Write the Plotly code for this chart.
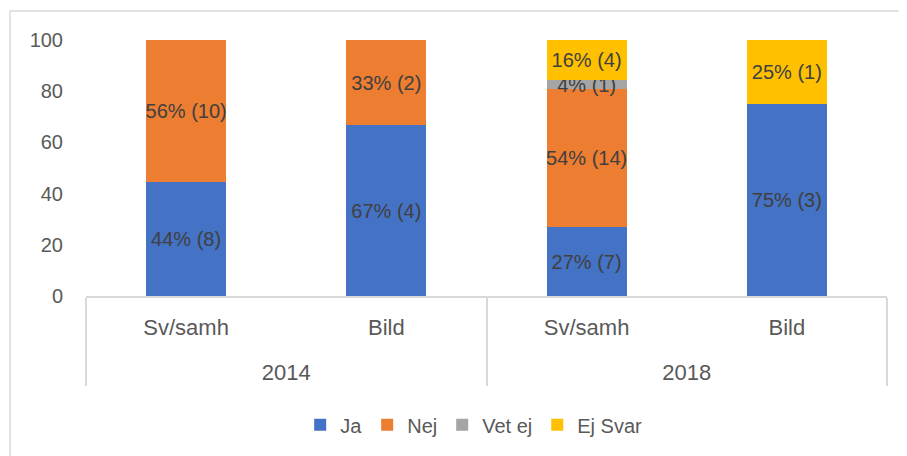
import plotly.graph_objects as go

years = ["2014", "2014", "2018", "2018"]
subjects = ["Sv/samh", "Bild", "Sv/samh", "Bild"]
series_names = ["Ja", "Nej", "Vet ej", "Ej Svar"]
colors = ["#4472C4", "#ED7D31", "#A5A5A5", "#FFC000"]
values = {
    "Ja": [44.4, 66.7, 26.9, 75.0],
    "Nej": [55.6, 33.3, 53.8, 0],
    "Vet ej": [0, 0, 3.8, 0],
    "Ej Svar": [0, 0, 15.4, 25.0],
}
labels = {
    "Ja": ["44% (8)", "67% (4)", "27% (7)", "75% (3)"],
    "Nej": ["56% (10)", "33% (2)", "54% (14)", ""],
    "Vet ej": ["", "", "4% (1)", ""],
    "Ej Svar": ["", "", "16% (4)", "25% (1)"],
}
y_ticks = [0, 20, 40, 60, 80, 100]

FONT = "Liberation Sans, Arial, sans-serif"
# page body has an 8px margin; positions below are in figure coordinates
OFF = 8
L, R_EDGE, TOP, BOT = 86 - OFF, 887 - OFF, 40 - OFF, 296 - OFF
W, H = 907, 456

year_labels = ["<br>" + y for y in years]

fig = go.Figure()
for name, col in zip(series_names, colors):
    fig.add_trace(go.Bar(
        name=name, x=[year_labels, subjects], y=values[name],
        marker=dict(color=col, line=dict(width=0)),
        text=labels[name], textposition="inside", insidetextanchor="middle",
        textangle=0, constraintext="none",
        textfont=dict(family=FONT, size=20, color="#404040"),
        hoverinfo="skip",
    ))

fig.update_layout(
    barmode="stack", bargap=0.6,
    width=W, height=H,
    margin=dict(l=L, r=W - R_EDGE, t=TOP, b=H - BOT, autoexpand=False),
    paper_bgcolor="white", plot_bgcolor="white",
    font=dict(family=FONT, size=20, color="#595959"),
    showlegend=True,
    legend=dict(orientation="h", x=0.484, xanchor="center", y=-0.427, yanchor="top",
                font=dict(family=FONT, size=20, color="#595959"),
                itemwidth=30, tracegroupgap=0, traceorder="normal"),
)
fig.update_xaxes(
    type="multicategory", showline=True, linecolor="#d9d9d9", linewidth=1.5,
    showdividers=True, dividercolor="#d9d9d9", dividerwidth=1.5,
    tickfont=dict(family=FONT, size=22, color="#595959"),
    showgrid=False, ticks="", automargin=False, ticklabelstandoff=11,
)
fig.update_yaxes(
    range=[0, 100], tickvals=y_ticks, showgrid=False, zeroline=False, showline=False,
    tickfont=dict(family=FONT, size=20, color="#595959"), ticks="", ticklabelstandoff=22,
    automargin=False,
)

# chart frame lines (left and top)
pw, ph = R_EDGE - L, BOT - TOP
px_x = lambda p: (p - OFF - L) / pw
px_y = lambda p: (BOT - (p - OFF)) / ph
fig.add_shape(type="line", xref="paper", yref="paper", x0=px_x(10), x1=px_x(10),
              y0=px_y(11), y1=px_y(470), line=dict(color="#d9d9d9", width=1.5))
fig.add_shape(type="line", xref="paper", yref="paper", x0=px_x(10), x1=px_x(920),
              y0=px_y(11), y1=px_y(11), line=dict(color="#d9d9d9", width=1.5))

fig.write_html("out.html")
